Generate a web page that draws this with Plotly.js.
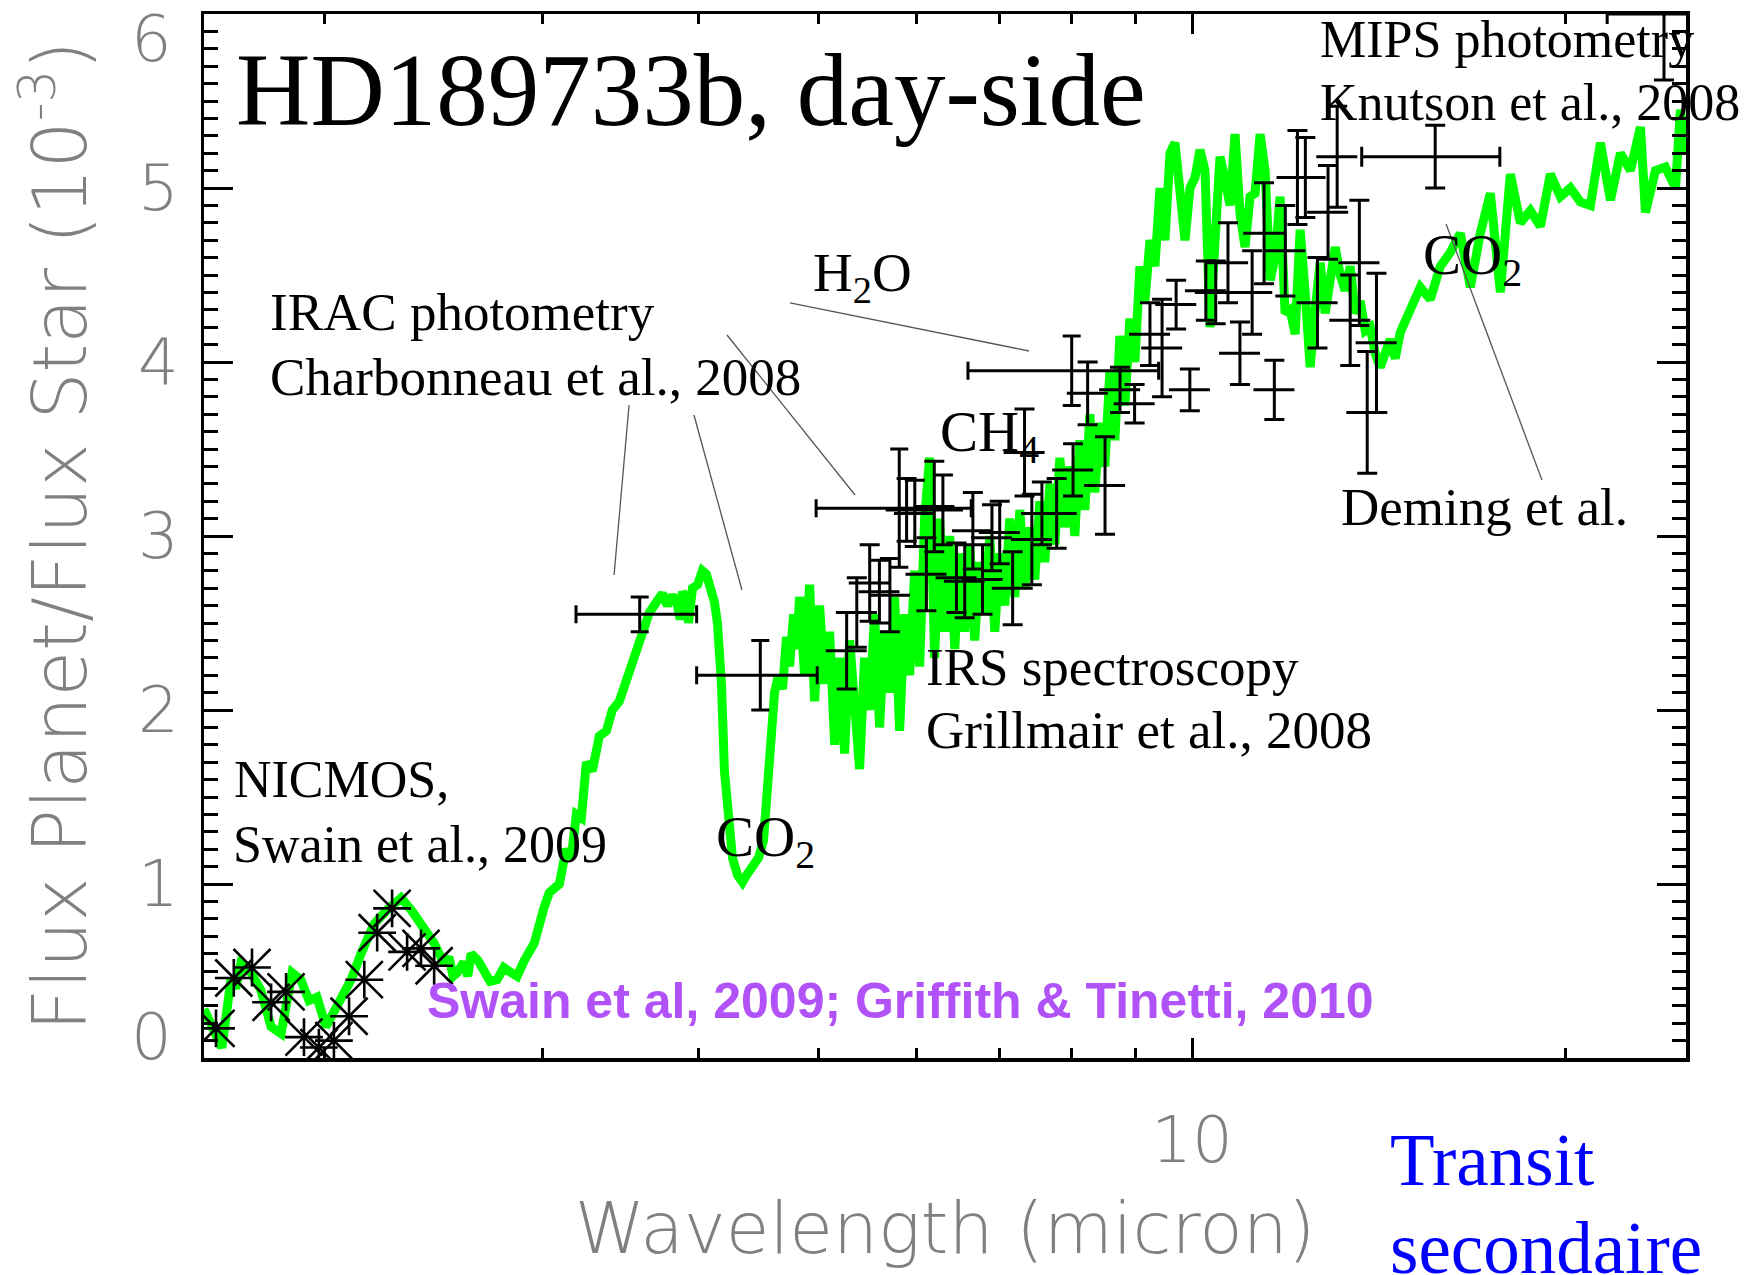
<!DOCTYPE html>
<html>
<head>
<meta charset="utf-8">
<script src="https://cdn.plot.ly/plotly-3.0.1.min.js"></script>
<style>
  html, body { margin: 0; padding: 0; background: #fff; }
  #chart { width: 1762px; height: 1275px; }
</style>
</head>
<body>
<div id="chart"></div>
<script>
// Model day-side emission spectrum of HD189733b (wavelength in micron, Fp/F* in 1e-3)
const modelWl = [
  1.600, 1.620, 1.654, 1.682, 1.697, 1.713, 1.746, 1.778, 1.812, 1.846, 1.884, 1.915, 1.944, 1.973,
  2.006, 2.048, 2.102, 2.141, 2.193, 2.247, 2.306, 2.350, 2.407, 2.452, 2.498, 2.520, 2.540, 2.559,
  2.590, 2.610, 2.626, 2.660, 2.690, 2.720, 2.756, 2.790, 2.829, 2.860, 2.898, 2.952, 3.008,
  3.036, 3.093, 3.132, 3.162, 3.192, 3.222, 3.252, 3.288, 3.331, 3.375, 3.412, 3.457, 3.502, 3.541,
  3.588, 3.621, 3.655, 3.703, 3.744, 3.779, 3.815, 3.851, 3.870, 3.886, 3.923, 3.930, 3.959, 3.997,
  4.033, 4.063, 4.094, 4.124, 4.147, 4.178, 4.201, 4.232, 4.264, 4.305, 4.344, 4.385, 4.434, 4.475,
  4.517, 4.550, 4.576, 4.610, 4.644, 4.679, 4.714, 4.740, 4.776, 4.803,
  4.829, 4.874, 4.920, 4.966, 5.012, 5.059, 5.106, 5.154, 5.202, 5.250, 5.299, 5.348, 5.398, 5.448,
  5.499, 5.550, 5.602, 5.654, 5.707, 5.760, 5.814, 5.868, 5.923, 5.978, 6.034, 6.090, 6.147, 6.204,
  6.262, 6.321, 6.380, 6.440, 6.500, 6.560, 6.621, 6.683, 6.745, 6.808, 6.872, 6.936, 7.001, 7.066,
  7.132, 7.199, 7.266, 7.334, 7.402, 7.471, 7.541, 7.611, 7.682, 7.754, 7.826, 7.899, 7.973, 8.047,
  8.122, 8.198, 8.274, 8.351, 8.429, 8.508, 8.587, 8.667, 8.748, 8.830, 8.912, 8.995, 9.079, 9.164,
  9.250, 9.336, 9.423, 9.511, 9.600, 9.689, 9.780, 9.871, 9.963, 10.056, 10.149, 10.244, 10.339,
  10.436, 10.533, 10.632, 10.731, 10.831, 10.932, 11.034, 11.137, 11.241, 11.346, 11.452, 11.559,
  11.667, 11.775, 11.885, 11.996, 12.108, 12.221, 12.335, 12.450, 12.566, 12.683, 12.802, 12.921,
  13.042, 13.163, 13.286, 13.410, 13.535, 13.661, 13.789, 13.917, 14.047, 14.178, 14.311, 14.444,
  14.579, 14.715, 14.991, 15.272, 15.558, 15.850, 16.147, 16.449, 16.757, 17.071, 17.391, 17.717,
  18.049, 18.387, 18.731, 19.082, 19.440, 19.804, 20.175, 20.553, 20.938, 21.330, 21.730, 22.137,
  22.551, 22.974, 23.190, 23.620, 24.060, 24.520, 24.740, 25.000
];
const modelFlux = [
  0.28, 0.20, 0.06, 0.45, 0.40, 0.54, 0.49, 0.39, 0.18, 0.14, 0.49, 0.45, 0.33, 0.35,
  0.18, 0.30, 0.45, 0.60, 0.77, 0.85, 0.92, 0.85, 0.73, 0.66, 0.54, 0.58, 0.47, 0.49,
  0.55, 0.47, 0.60, 0.56, 0.50, 0.44, 0.45, 0.52, 0.49, 0.47, 0.56, 0.66, 0.87,
  0.95, 1.00, 1.20, 1.15, 1.40, 1.38, 1.70, 1.65, 1.85, 1.88, 2.00, 2.05, 2.17, 2.25,
  2.37, 2.48, 2.56, 2.62, 2.67, 2.60, 2.66, 2.60, 2.52, 2.68, 2.62, 2.50, 2.70, 2.72,
  2.80, 2.78, 2.70, 2.62, 2.50, 2.15, 1.65, 1.35, 1.15, 1.05, 1.01, 1.06, 1.10, 1.15,
  1.25, 1.55, 1.85, 2.10, 2.20, 2.12, 2.42, 2.25, 2.55, 2.35,
  2.65, 2.20, 2.72, 2.05, 2.60, 2.15, 2.45, 1.80, 2.30, 1.75, 2.40, 1.95, 1.66, 2.30,
  2.00, 2.55, 1.90, 2.45, 2.10, 2.65, 1.88, 2.55, 2.20, 2.80, 2.25, 3.10, 3.45, 2.30,
  3.10, 2.45, 3.00, 2.35, 2.90, 2.45, 2.95, 2.40, 2.85, 2.55, 3.00, 2.45, 2.90, 2.60,
  3.10, 2.65, 3.15, 2.70, 3.05, 2.75, 3.20, 2.85, 3.30, 2.95, 3.45, 3.05, 3.40, 3.00,
  3.55, 3.15, 3.70, 3.25, 3.65, 3.40, 3.95, 3.55, 4.15, 3.75, 4.25, 4.00, 4.55, 4.35,
  4.70, 4.55, 5.00, 4.70, 5.20, 5.26, 4.90, 4.70, 5.00, 5.06, 5.22, 5.10, 4.20,
  4.65, 5.18, 5.05, 4.90, 5.31, 4.85, 4.66, 4.95, 4.97, 5.31, 5.10, 4.47,
  4.60, 4.95, 4.28, 4.30, 4.16, 4.76, 4.40, 3.97, 4.30, 4.57, 4.28, 4.45,
  4.66, 4.50, 4.41, 4.55, 4.28, 4.35, 4.18, 4.20, 4.05, 3.97, 4.05, 4.13,
  4.02, 4.17, 4.30, 4.43, 4.36, 4.55, 4.63, 4.74, 4.43, 4.74, 4.97, 4.40,
  5.08, 4.80, 4.87, 4.78, 5.08, 4.95, 5.00, 4.92, 4.90, 5.26, 4.93, 5.20,
  5.10, 5.35, 4.86, 5.10, 5.12, 5.00, 5.45, 5.20
];

// HST/NICMOS spectrophotometry (Swain et al., 2009)
const nicmosWl   = [1.636, 1.691, 1.749, 1.812, 1.863, 1.926, 1.980, 2.036, 2.094, 2.154, 2.206, 2.268, 2.332, 2.393, 2.452];
const nicmosFlux = [0.17, 0.46, 0.52, 0.32, 0.38, 0.12, 0.06, 0.10, 0.24, 0.45, 0.72, 0.86, 0.61, 0.63, 0.53];

// Spitzer/IRAC photometry (Charbonneau et al., 2008)
const iracWl   = [3.59, 4.49, 5.81, 8.00];
const iracFlux = [2.55, 2.20, 3.16, 3.95];
const iracErr  = [0.10, 0.20, 0.34, 0.20];
const iracBand = [0.40, 0.50, 0.83, 1.40];

// Spitzer/IRS spectroscopy (Grillmair et al., 2008)
const irsWl = [
  5.27, 5.37, 5.50, 5.60, 5.71, 5.89, 5.98, 6.11, 6.20, 6.30, 6.46, 6.56, 6.66, 6.78, 6.90, 7.00,
  7.17, 7.33, 7.43, 7.57, 7.78, 8.02, 8.24, 8.51, 8.75, 8.99, 9.25, 9.46, 9.71, 9.96, 10.26, 10.45,
  10.69, 10.93, 11.18, 11.43, 11.65, 11.89, 12.16, 12.34, 12.62, 12.87, 13.09, 13.41, 13.64, 13.84, 14.08
];
const irsFlux = [
  2.34, 2.56, 2.73, 2.68, 2.66, 3.15, 3.13, 2.78, 3.17, 3.15, 2.76, 2.74, 3.03, 2.75, 2.99, 3.02,
  2.70, 3.48, 2.98, 3.13, 3.13, 3.38, 3.82, 3.29, 3.84, 3.76, 4.16, 4.08, 4.33, 3.84, 4.41, 4.40,
  4.57, 4.05, 4.40, 4.74, 3.84, 4.64, 5.06, 5.06, 4.34, 4.86, 5.18, 4.24, 4.57, 3.71, 4.11
];
const irsErr = [
  0.22, 0.20, 0.22, 0.18, 0.21, 0.18, 0.19, 0.21, 0.26, 0.20, 0.20, 0.21, 0.22, 0.20, 0.19, 0.18,
  0.21, 0.25, 0.26, 0.18, 0.20, 0.15, 0.18, 0.28, 0.13, 0.11, 0.18, 0.28, 0.14, 0.12, 0.17, 0.18,
  0.23, 0.18, 0.24, 0.29, 0.17, 0.26, 0.27, 0.23, 0.26, 0.27, 0.29, 0.26, 0.36, 0.35, 0.40
];

// Spitzer/IRS peak-up 16 micron (Deming et al.)
const demingWl = [15.7], demingFlux = [5.18], demingErr = [0.18], demingBand = [2.0];

// Spitzer/MIPS 24 micron (Knutson et al., 2008)
const mipsWl = [24.0], mipsFlux = [6.00], mipsErr = [0.38], mipsBand = [2.4];

// Axis ticks
const xMajorTicks = [10];
const xMajorLabels = ['10'];
const xMinorTicks = [2, 3, 4, 5, 6, 7, 8, 9, 20];
const yMidTicks = [1, 2, 3, 4, 5];
const yBottomTick = 0;
const yTopTick = 6;

const serif = 'Liberation Serif, Times New Roman, serif';
const axisFont = 'DejaVu Sans, Lato, sans-serif';
const grey = '#808080';
const tickFont = { family: axisFont, size: 64, color: grey, weight: 200 };
const barStyle = { color: 'black', thickness: 3 };

const traces = [
  {
    x: modelWl, y: modelFlux, type: 'scatter', mode: 'lines',
    line: { color: '#00ff00', width: 9 }, hoverinfo: 'skip'
  },
  {
    x: nicmosWl, y: nicmosFlux, type: 'scatter', mode: 'markers',
    marker: { symbol: 'x-thin-open', size: 37, color: 'black', line: { color: 'black', width: 2.6 } }
  },
  {
    x: nicmosWl, y: nicmosFlux, type: 'scatter', mode: 'markers',
    marker: { symbol: 'cross-thin-open', size: 27, color: 'black', line: { color: 'black', width: 2.6 } }
  },
  {
    x: iracWl, y: iracFlux, type: 'scatter', mode: 'markers',
    marker: { size: 2, color: 'rgba(0,0,0,0)' },
    error_y: Object.assign({ type: 'data', array: iracErr, width: 9 }, barStyle),
    error_x: Object.assign({ type: 'data', array: iracBand, width: 9 }, barStyle)
  },
  {
    x: irsWl, y: irsFlux, type: 'scatter', mode: 'markers',
    marker: { size: 2, color: 'rgba(0,0,0,0)' },
    error_y: Object.assign({ type: 'data', array: irsErr, width: 10 }, barStyle),
    error_x: Object.assign({ type: 'percent', value: 3.8, width: 0 }, barStyle)
  },
  {
    x: demingWl, y: demingFlux, type: 'scatter', mode: 'markers',
    marker: { size: 2, color: 'rgba(0,0,0,0)' },
    error_y: Object.assign({ type: 'data', array: demingErr, width: 10 }, barStyle),
    error_x: Object.assign({ type: 'data', array: demingBand, width: 10 }, barStyle)
  },
  {
    x: mipsWl, y: mipsFlux, type: 'scatter', mode: 'markers',
    marker: { size: 2, color: 'rgba(0,0,0,0)' },
    error_y: Object.assign({ type: 'data', array: mipsErr, width: 10 }, barStyle),
    error_x: Object.assign({ type: 'data', array: mipsBand, width: 10 }, barStyle)
  }
];

function note(text, x, y, size, extra) {
  return Object.assign({
    text: text, x: x, y: y, xref: 'paper', yref: 'paper',
    xanchor: 'left', yanchor: 'middle', showarrow: false,
    font: { family: serif, size: size, color: 'black' }
  }, extra || {});
}

// end labels of the flux scale sit just inside the plot frame
function endLabel(value, shift) {
  return {
    text: String(value), x: -0.0202, xref: 'paper', xanchor: 'right',
    y: value, yref: 'y', yanchor: 'middle', yshift: shift,
    showarrow: false, font: tickFont
  };
}

const annotations = [
  endLabel(yBottomTick, 21),
  endLabel(yTopTick, -25),
  note('HD189733b, day-side', 0.0202, 0.9270, 103),
  note('MIPS photometry', 0.7517, 0.9757, 52),
  note('Knutson et al., 2008', 0.7517, 0.9153, 52),
  note('IRAC photometry', 0.0432, 0.7145, 53),
  note('Charbonneau et al., 2008', 0.0432, 0.6522, 53),
  note('H<sub>2</sub>O', 0.4096, 0.7487, 55),
  note('CH<sub>4</sub>', 0.4953, 0.5960, 57),
  note('CO<sub>2</sub>', 0.8212, 0.7655, 57),
  note('Deming et al.', 0.7659, 0.5277, 53),
  note('IRS spectroscopy', 0.4858, 0.3744, 53),
  note('Grillmair et al., 2008', 0.4858, 0.3141, 53),
  note('NICMOS,', 0.0189, 0.2669, 52),
  note('Swain et al., 2009', 0.0182, 0.2046, 52),
  note('CO<sub>2</sub>', 0.3441, 0.2080, 57),
  note('Swain et al, 2009; Griffith &amp; Tinetti, 2010', 0.1491, 0.0546, 50,
       { font: { family: 'Liberation Sans, Arial, sans-serif', size: 50, color: '#b052f7', weight: 'bold' } }),
  note('Transit', 0.7989, -0.0981, 73, { font: { family: serif, size: 73, color: '#0000ff' } }),
  note('secondaire', 0.7989, -0.1824, 73, { font: { family: serif, size: 73, color: '#0000ff' } })
];

function leader(x0, y0, x1, y1) {
  return {
    type: 'line', xref: 'paper', yref: 'paper', x0: x0, y0: y0, x1: x1, y1: y1,
    line: { color: '#555', width: 1.3 }
  };
}

const shapes = [
  leader(0.2868, 0.6255, 0.2767, 0.4626),
  leader(0.3306, 0.6159, 0.3630, 0.4483),
  leader(0.3529, 0.6925, 0.4393, 0.5393),
  leader(0.3954, 0.7232, 0.5567, 0.6772),
  leader(0.8381, 0.7989, 0.9028, 0.5536)
];

const layout = {
  width: 1762, height: 1275,
  margin: { l: 204, r: 76, t: 14, b: 217, pad: 0 },
  paper_bgcolor: 'white', plot_bgcolor: 'white',
  showlegend: false,
  xaxis: {
    type: 'log', range: [Math.log10(1.6), Math.log10(25)],
    showline: true, linecolor: 'black', linewidth: 3.5, mirror: 'ticks',
    showgrid: false, zeroline: false,
    ticks: 'inside', ticklen: 20, tickwidth: 3, tickcolor: 'black',
    tickmode: 'array', tickvals: xMajorTicks, ticktext: xMajorLabels,
    minor: { tickmode: 'array', tickvals: xMinorTicks, ticks: 'inside', ticklen: 10, tickwidth: 3, tickcolor: 'black' },
    tickfont: tickFont,
    ticklabelstandoff: 24,
    title: { text: 'Wavelength (micron)', font: { family: axisFont, size: 71, color: grey, weight: 200 }, standoff: 28 },
    automargin: false
  },
  yaxis: {
    range: [0, 6],
    showline: true, linecolor: 'black', linewidth: 3.5, mirror: 'ticks',
    showgrid: false, zeroline: false,
    ticks: 'inside', ticklen: 29, tickwidth: 3, tickcolor: 'black',
    tickmode: 'array', tickvals: yMidTicks,
    minor: { dtick: 0.1, tick0: 0, ticks: 'inside', ticklen: 14, tickwidth: 3, tickcolor: 'black' },
    tickfont: tickFont,
    ticklabelstandoff: 9,
    title: { text: 'Flux Planet/Flux Star (10<sup>-3</sup>)', font: { family: axisFont, size: 74, color: grey, weight: 200 }, standoff: 28 },
    automargin: false
  },
  annotations: annotations,
  shapes: shapes
};

Plotly.newPlot('chart', traces, layout, { displayModeBar: false, staticPlot: true });
</script>
</body>
</html>
